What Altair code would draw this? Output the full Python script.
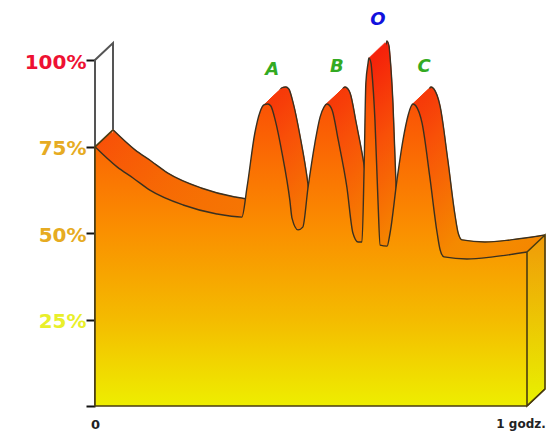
import altair as alt
import pandas as pd

hours = [0, .051, .088, .127, .204, .282, .340, .352, .370, .382, .391, .400, .407, .417, .433, .451, .456, .470, .481,
         .493, .509, .521, .530, .537, .544, .549, .563, .583, .597, .609, .618, .623, .627, .632, .634, .639, .641, .648,
         .655, .660, .676, .683, .699, .713, .725, .732, .736, .743, .757, .775, .792, .799, .808, .861, .921, 1.0]
percent = [74.9, 69.1, 65.9, 62.4, 58.1, 55.5, 54.6, 63.3, 78.9, 85.0, 87.0, 87.3, 86.7, 82.7, 73.1, 59.5, 54.3, 50.9, 51.7,
           63.0, 76.0, 83.5, 86.4, 87.3, 86.7, 85.5, 76.9, 63.3, 50.0, 47.4, 47.4, 69.1, 93.4, 99.0, 100.6, 99.0, 96.5, 82.7,
           59.5, 46.5, 46.2, 50.0, 65.3, 76.9, 84.1, 86.7, 87.3, 86.7, 81.8, 66.2, 50.0, 45.1, 43.1, 42.5, 43.1, 44.5]

depth_hours = 18 / 432
depth_percent = 17 / 3.46
depth_steps = 18

peak_names = ["A", "B", "O", "C"]
peak_hours = [.41, .56, .655, .762]
peak_percent = [97.1, 98.0, 111.6, 98.0]
peak_colors = ["#33aa22", "#33aa22", "#1111dd", "#33aa22"]

front = pd.DataFrame({"t": hours, "p": percent, "b": 0.0})


def shifted(k):
    f = k / depth_steps
    return pd.DataFrame({"t": [h + f * depth_hours for h in hours],
                         "p": [v + f * depth_percent for v in percent],
                         "b": f * depth_percent,
                         "k": k})


sweep = pd.concat([shifted(k) for k in range(depth_steps - 2, 0, -1)], ignore_index=True)
back = shifted(depth_steps)

X_SCALE = alt.Scale(domain=[0, 1], nice=False, zero=False)
Y_SCALE = alt.Scale(domain=[0, 100], nice=False)


def gradient(stops):
    return alt.Gradient(gradient="linear", x1=0, x2=0, y1=0, y2=1,
                        stops=[alt.GradientStop(offset=o, color=c) for o, c in stops])


red_grad = gradient([(0, "#f5200a"), (.25, "#f85008"), (.55, "#f58500"), (1, "#e8e000")])
front_grad = gradient([(0, "#f8300a"), (.15, "#fa5505"), (.5, "#fa9000"), (.75, "#f4bb00"), (1, "#eeee00")])
side_grad = gradient([(0, "#f09a08"), (1, "#e8f200")])

x = alt.X("t:Q", scale=X_SCALE, title=None, axis=alt.Axis(
    values=[0, .985], labelExpr="datum.value == 0 ? '0' : '1 godz.'", title=None, domain=False, ticks=False,
    grid=False, labelFont="DejaVu Sans", labelFontWeight="bold",
    labelFontSize=alt.expr("datum.value == 0 ? 13 : 12"), labelColor="#222222",
    labelPadding=12, labelAngle=0, labelBound=False, labelFlush=False, labelOverlap=False))
y = alt.Y("p:Q", scale=Y_SCALE, title=None, axis=alt.Axis(
    values=[0, 25, 50, 75, 100], labelExpr="datum.value == 0 ? '' : datum.value + '%'", title=None, domain=False,
    grid=False, tickColor="#111111", tickWidth=2, tickSize=9, labelPadding=0, labelFont="DejaVu Sans",
    labelFontWeight="bold", labelFontSize=20, labelOffset=2, labelBound=False, labelFlush=False,
    labelOverlap=False,
    labelColor=alt.expr("datum.value == 100 ? '#ee1133' : datum.value == 25 ? '#e9ef2a' : '#e6ab22'")))

frame_t = [0, 0, depth_hours, depth_hours]
frame_p = [0, 100, 100 + depth_percent, percent[0] + depth_percent]
frame = alt.Chart(pd.DataFrame({"t": frame_t, "p": frame_p, "i": range(4)})).mark_line(
    stroke="#555555", strokeWidth=2).encode(x=x, y=y, order="i:Q")

back_area = alt.Chart(back).mark_area(fill=red_grad, interpolate="monotone", stroke=red_grad, strokeWidth=1).encode(
    x=x, y=y, y2="b:Q")
back_line = alt.Chart(back).mark_line(stroke="#3a3020", strokeWidth=1.4, interpolate="monotone").encode(x=x, y=y)
sweep_area = alt.Chart(sweep).mark_area(fill=red_grad, interpolate="monotone", stroke=red_grad, strokeWidth=1).encode(
    x=x, y=y, y2="b:Q", detail="k:N")

side = alt.Chart(pd.DataFrame({"t": [1, 1 + depth_hours], "p": [percent[-1], percent[-1] + depth_percent],
                               "b": [0, depth_percent]})).mark_area(fill=side_grad).encode(
    x=x, y=y, y2="b:Q")

front_area = alt.Chart(front).mark_area(fill=front_grad, interpolate="monotone").encode(x=x, y=y, y2="b:Q")
front_line = alt.Chart(front).mark_line(stroke="#3a3020", strokeWidth=1.4, interpolate="monotone").encode(x=x, y=y)

edge_seg = ["a", "a", "b", "b", "b", "b", "b", "c", "c", "c", "c", "d", "d"]
edge_t = [0, depth_hours, 1, 1 + depth_hours, 1 + depth_hours, 1, 1, 0, 0, 1, 1, 1, 1 + depth_hours]
edge_p = [percent[0], percent[0] + depth_percent, percent[-1], percent[-1] + depth_percent, depth_percent, 0,
          percent[-1], percent[0], 0, 0, 0, 0, depth_percent]
edges = alt.Chart(pd.DataFrame({"t": edge_t, "p": edge_p, "s": edge_seg, "i": range(len(edge_t))})).mark_line(
    stroke="#4a3c10", strokeWidth=1.6).encode(x=x, y=y, detail="s:N", order="i:Q")

labels = alt.Chart(pd.DataFrame({"t": peak_hours, "p": peak_percent, "n": peak_names, "c": peak_colors})).mark_text(
    font="DejaVu Sans", fontWeight="bold", fontStyle="italic", fontSize=18, baseline="middle", align="center").encode(
    x=x, y=y, text="n:N", color=alt.Color("c:N", scale=None))

chart = alt.layer(
    frame, back_area, back_line, sweep_area, side, front_area, front_line, edges, labels
).properties(
    width=432, height=346, autosize="none",
    padding={"left": 87, "top": 52, "right": 19, "bottom": 26},
).configure_view(stroke=None)

chart.save("out.html", embed_options={"renderer": "svg", "actions": False})
